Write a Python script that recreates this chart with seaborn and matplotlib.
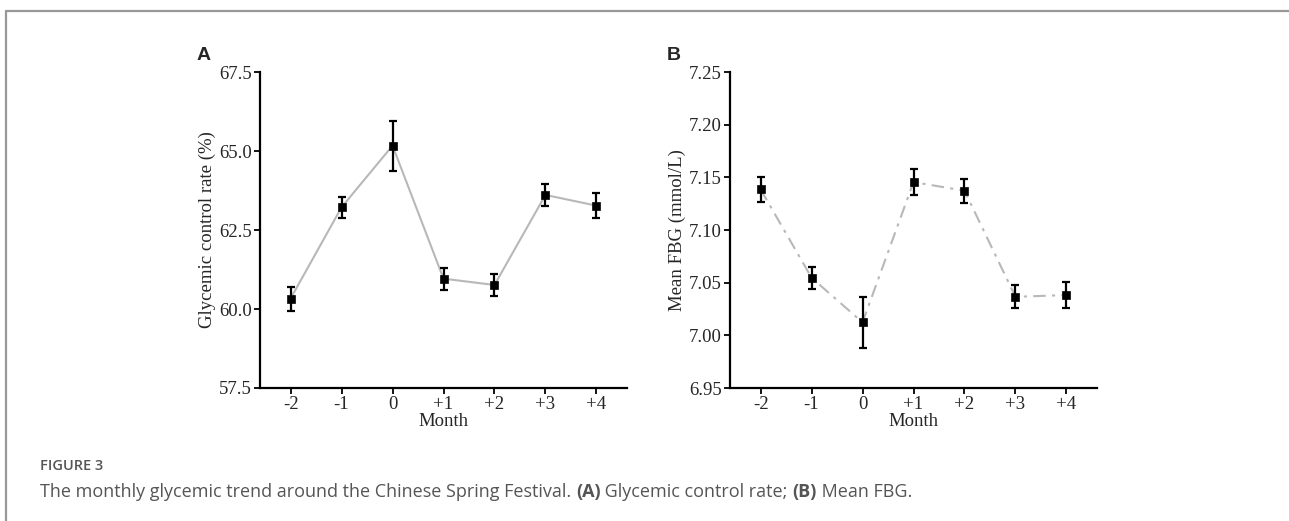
import matplotlib
matplotlib.use("Agg")
import matplotlib.pyplot as plt
import seaborn as sns
import pandas as pd
import numpy as np
from matplotlib.lines import Line2D

months = ["-2", "-1", "0", "+1", "+2", "+3", "+4"]
control_rate = [60.33, 63.22, 65.17, 60.96, 60.76, 63.61, 63.27]
control_err = [0.38, 0.34, 0.79, 0.35, 0.35, 0.36, 0.39]
mean_fbg = [7.1386, 7.0547, 7.0123, 7.1455, 7.1373, 7.0366, 7.0382]
fbg_err = [0.012, 0.0105, 0.0245, 0.012, 0.0115, 0.011, 0.012]

sns.set_theme(style="ticks")
plt.rcParams['font.family'] = ['Liberation Serif', 'DejaVu Serif']

fig = plt.figure(figsize=(12.89, 5.21), dpi=100)

axA = fig.add_axes([260/1289, 133/521, 367/1289, 316/521])
axB = fig.add_axes([730/1289, 133/521, 367/1289, 316/521])

def draw(ax, vals, errs, ls, ylim, yticks, fmt, ylabel):
    df = pd.DataFrame({"pos": np.arange(len(months)), "val": vals})
    sns.lineplot(data=df, x="pos", y="val", ax=ax, color="#b8b8b8", lw=1.5,
                 linestyle=ls, zorder=1)
    ax.errorbar(df["pos"], df["val"], yerr=errs, fmt="none", ecolor="black",
                elinewidth=1.6, capsize=3.2, capthick=1.6, zorder=2)
    sns.scatterplot(data=df, x="pos", y="val", ax=ax, marker="s", s=36,
                    color="black", edgecolor="black", zorder=3)
    ax.set_xlim(-0.6, 6.6)
    ax.set_ylim(*ylim)
    ax.set_xticks(np.arange(len(months)))
    ax.set_xticklabels(months)
    ax.set_yticks(yticks)
    ax.set_yticklabels([fmt.format(v) for v in yticks])
    ax.set_xlabel("Month", fontsize=13.5, labelpad=0)
    ax.set_ylabel(ylabel, fontsize=13.5, labelpad=2)
    ax.tick_params(axis="both", labelsize=13.5, direction="out", length=4,
                   width=1.3, color="black", pad=2)
    for s in ["top", "right"]:
        ax.spines[s].set_visible(False)
    for s in ["left", "bottom"]:
        ax.spines[s].set_linewidth(1.6)
        ax.spines[s].set_color("black")

draw(axA, control_rate, control_err, "-", (57.5, 67.5),
     [57.5, 60.0, 62.5, 65.0, 67.5], "{:.1f}", "Glycemic control rate (%)")
draw(axB, mean_fbg, fbg_err, (0, (6, 3, 1.5, 3)), (6.95, 7.25),
     [6.95, 7.00, 7.05, 7.10, 7.15, 7.20, 7.25], "{:.2f}", "Mean FBG (mmol/L)")

fig.text(197/1289, 1 - 60/521, "A", fontsize=14, fontweight="bold",
         family=["Liberation Sans", "DejaVu Sans"])
fig.text(667/1289, 1 - 60/521, "B", fontsize=14, fontweight="bold",
         family=["Liberation Sans", "DejaVu Sans"])

fig.text(40/1289, 1 - 470/521, "FIGURE 3", fontsize=10.5, color="#555555",
         fontweight="semibold", family=["Open Sans", "DejaVu Sans"])

renderer = fig.canvas.get_renderer()
parts = [("The monthly glycemic trend around the Chinese Spring Festival. ", "normal"),
         ("(A)", "bold"), (" Glycemic control rate; ", "normal"),
         ("(B)", "bold"), (" Mean FBG.", "normal")]
x = 40/1289
for txt, w in parts:
    t = fig.text(x, 1 - 497/521, txt, fontsize=13, color="#555555",
                 fontweight=w, family=["Open Sans", "DejaVu Sans"])
    bb = t.get_window_extent(renderer=renderer)
    x += bb.width / fig.bbox.width

# figure border (top and left)
fig.add_artist(Line2D([6/1289, 1], [1 - 11/521, 1 - 11/521], color="#999999", lw=1.6))
fig.add_artist(Line2D([6/1289, 6/1289], [0, 1 - 11/521], color="#999999", lw=1.6))

fig.savefig("out.png", dpi=100)
